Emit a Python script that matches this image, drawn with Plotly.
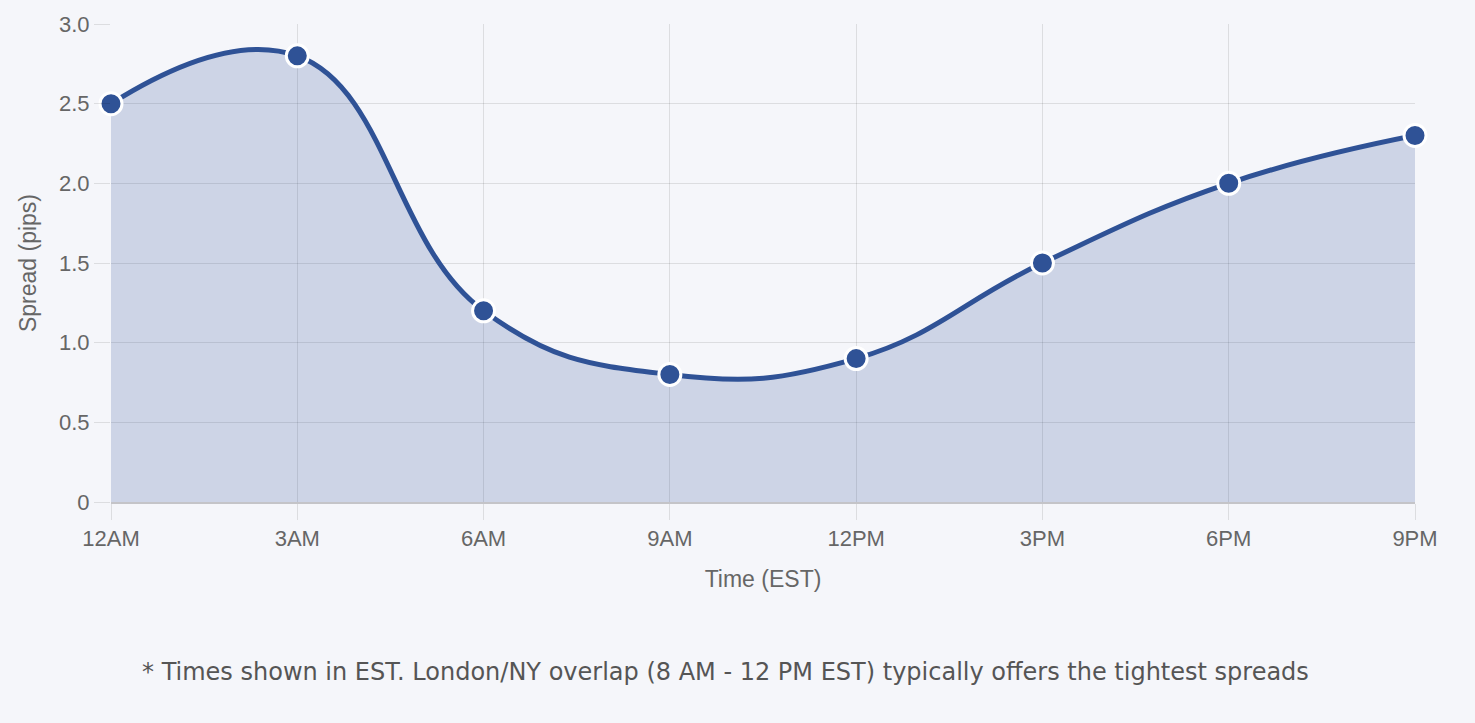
import plotly.graph_objects as go

# average spread by time of day (EST)
hours = [0, 3, 6, 9, 12, 15, 18, 21]
hour_labels = ["12AM", "3AM", "6AM", "9AM", "12PM", "3PM", "6PM", "9PM"]
spread_pips = [2.5, 2.8, 1.2, 0.8, 0.9, 1.5, 2.0, 2.3]
y_ticks = [0, 0.5, 1.0, 1.5, 2.0, 2.5, 3.0]
y_tick_labels = ["0", "0.5", "1.0", "1.5", "2.0", "2.5", "3.0"]

LINE = "#2f5296"
BG = "#f5f6fa"
GRID = "rgba(0,0,0,0.1)"
TEXT = "#666666"
FONT = "Liberation Sans, Helvetica, Arial, sans-serif"

fig = go.Figure()
fig.add_trace(go.Scatter(
    x=hours, y=spread_pips,
    mode="lines+markers",
    line=dict(color=LINE, width=5, shape="spline", smoothing=1.25),
    fill="tozeroy", fillcolor="rgba(47,82,150,0.2)",
    marker=dict(size=22, color=LINE, line=dict(color="white", width=3)),
    cliponaxis=False,
    hoverinfo="x+y",
))

fig.update_layout(
    width=1475, height=723,
    paper_bgcolor=BG, plot_bgcolor=BG,
    margin=dict(l=111, r=60, t=24, b=221),
    showlegend=False,
    font=dict(family=FONT, size=22, color=TEXT),
    xaxis=dict(
        range=[0, 21], tickvals=hours, ticktext=hour_labels,
        showgrid=True, gridcolor=GRID, gridwidth=1,
        ticks="outside", ticklen=16, tickcolor="rgba(0,0,0,0.1)",
        showline=True, linecolor="rgba(0,0,0,0.2)", linewidth=1.5,
        zeroline=False,
        title=dict(text="Time (EST)", standoff=21, font=dict(size=23, color=TEXT)),
    ),
    yaxis=dict(
        range=[0, 3.0], tickvals=y_ticks, ticktext=y_tick_labels,
        showgrid=True, gridcolor=GRID, gridwidth=1,
        ticks="outside", ticklen=16, tickcolor="rgba(0,0,0,0.1)",
        zeroline=False, showline=False,
        title=dict(text="Spread (pips)", standoff=15, font=dict(size=23, color=TEXT)),
    ),
    annotations=[dict(
        text="* Times shown in EST. London/NY overlap (8 AM - 12 PM EST) typically offers the tightest spreads",
        xref="paper", yref="paper", x=0.471, y=-0.356,
        xanchor="center", yanchor="middle", showarrow=False,
        font=dict(family="DejaVu Sans, Verdana, sans-serif", size=24, color="#555555"),
    )],
)

fig.write_html(
    "out.html",
    config={"displayModeBar": False},
    post_script="document.body.style.margin='0';document.body.style.background='%s';" % BG,
)
